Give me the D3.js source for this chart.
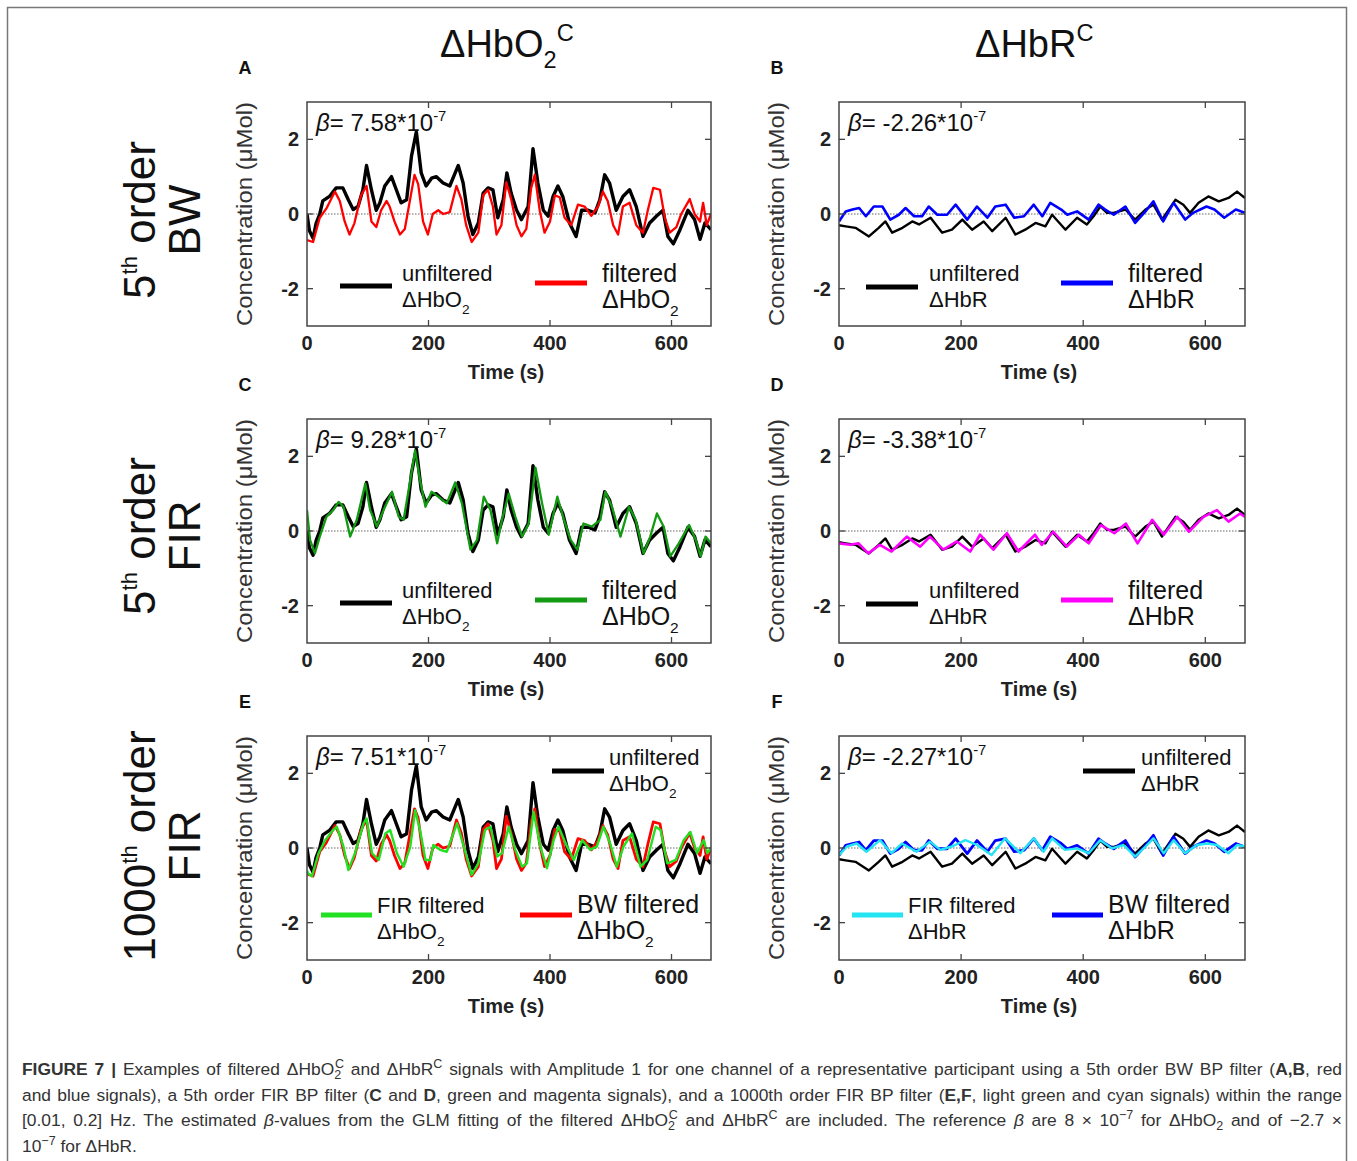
<!DOCTYPE html>
<meta charset="utf-8">
<title>Figure 7</title>
<style>
body { margin: 0; background: #fff; font-family: Arial, "Liberation Sans", sans-serif; }
#caption { position: absolute; left: 22px; top: 1057px; width: 1320px; font-size: 17.4px; color: #333; }
#caption .ln { height: 25.5px; line-height: 25.5px; text-align: justify; text-align-last: justify; white-space: nowrap; }
#caption .ln.last { text-align-last: left; }
#caption sub, #caption sup { font-size: 0.72em; line-height: 0; }
#caption .st { margin-left: -0.5em; }
</style>
<svg id="fig"></svg>
<div id="caption">
	<div class="ln"><b>FIGURE 7 |</b> Examples of filtered ΔHbO<sub>2</sub><sup class="st">C</sup> and ΔHbR<sup>C</sup> signals with Amplitude 1 for one channel of a representative participant using a 5th order BW BP filter (<b>A,B</b>, red</div>
	<div class="ln">and blue signals), a 5th order FIR BP filter (<b>C</b> and <b>D</b>, green and magenta signals), and a 1000th order FIR BP filter (<b>E,F</b>, light green and cyan signals) within the range</div>
	<div class="ln">[0.01, 0.2] Hz. The estimated <i>β</i>-values from the GLM fitting of the filtered ΔHbO<sub>2</sub><sup class="st">C</sup> and ΔHbR<sup>C</sup> are included. The reference <i>β</i> are 8 × 10<sup>−7</sup> for ΔHbO<sub>2</sub> and of −2.7 ×</div>
	<div class="ln last">10<sup>−7</sup> for ΔHbR.</div>
</div>
<script src="https://cdnjs.cloudflare.com/ajax/libs/d3/7.8.5/d3.min.js"></script>
<script>
// values, [time (s), concentration (uMol)]
const hboRaw = [[0,0.0],[4,-0.45],[10,-0.65],[15,-0.25],[21,0.0],[26,0.35],[37,0.47],[48,0.7],[59,0.7],[68,0.38],[76,0.12],[84,0.2],[92,0.65],[98,1.3],[106,0.65],[114,0.1],[120,0.3],[128,0.75],[139,1.0],[147,0.65],[155,0.3],[164,0.38],[172,1.55],[180,2.2],[188,1.1],[196,0.75],[205,0.96],[213,1.0],[224,0.83],[235,0.75],[249,1.3],[257,0.83],[265,-0.06],[273,-0.55],[282,-0.24],[290,0.56],[298,0.7],[306,0.65],[314,-0.1],[323,0.38],[329,1.1],[336,0.56],[345,0.1],[353,-0.15],[364,0.2],[372,1.75],[380,0.83],[389,0.1],[397,-0.06],[405,0.47],[413,0.75],[421,0.47],[432,-0.24],[443,-0.6],[452,0.1],[463,0.1],[474,0.03],[482,0.38],[490,1.05],[498,0.83],[509,0.1],[520,0.47],[531,0.65],[542,0.2],[553,-0.6],[564,-0.24],[575,-0.06],[586,0.1],[594,-0.6],[603,-0.8],[614,-0.42],[627,0.1],[638,-0.15],[647,-0.68],[655,-0.24],[665,-0.42]];
const hboBw = [[0,-0.7],[10,-0.75],[21,-0.1],[32,0.15],[46,0.6],[54,0.35],[62,-0.2],[70,-0.55],[78,-0.25],[89,0.5],[98,0.75],[106,-0.2],[114,-0.35],[122,0.1],[131,0.35],[136,0.2],[144,-0.2],[153,-0.55],[161,-0.4],[172,0.6],[177,1.05],[183,0.8],[191,-0.2],[199,-0.55],[207,0.0],[216,0.1],[224,0.0],[235,0.05],[246,0.75],[254,0.4],[262,-0.3],[271,-0.75],[282,-0.5],[290,0.5],[298,0.65],[306,0.2],[312,-0.55],[320,-0.3],[328,0.85],[336,0.4],[345,-0.3],[353,-0.6],[361,-0.4],[369,0.7],[375,1.05],[383,0.1],[391,-0.5],[400,-0.2],[408,0.5],[416,0.45],[424,-0.1],[435,-0.3],[446,0.25],[457,0.2],[468,-0.05],[479,0.2],[487,0.6],[495,0.35],[504,-0.3],[512,-0.55],[520,0.2],[531,0.3],[542,-0.3],[553,-0.5],[561,0.1],[570,0.7],[581,0.65],[589,-0.1],[597,-0.5],[608,-0.35],[616,0.0],[630,0.4],[638,0.0],[647,-0.2],[652,0.3],[658,-0.3],[665,0.0]];
const hboFir5 = [[0,0.56],[5,-0.24],[13,-0.6],[21,-0.15],[32,0.38],[43,0.56],[52,0.78],[60,0.65],[71,-0.15],[82,0.3],[96,1.27],[104,0.56],[115,0.12],[126,0.56],[140,1.05],[151,0.38],[159,0.3],[170,1.36],[178,2.16],[186,1.36],[195,0.65],[205,1.05],[216,0.92],[230,0.74],[244,1.3],[255,0.74],[269,-0.5],[280,-0.24],[291,0.92],[302,0.56],[313,-0.33],[321,0.3],[332,1.0],[343,0.38],[354,-0.15],[365,0.2],[376,1.7],[387,0.74],[398,-0.1],[412,0.92],[423,0.3],[434,-0.24],[445,-0.5],[455,0.2],[469,0.12],[483,0.3],[491,1.05],[502,0.65],[516,-0.15],[530,0.65],[541,0.3],[554,-0.6],[565,-0.15],[576,0.47],[587,0.12],[598,-0.68],[612,-0.33],[629,0.16],[640,-0.24],[648,-0.68],[656,-0.15],[665,-0.33]];
const hboFir1000 = [[0,-0.6],[2,-0.68],[8,-0.76],[19,-0.14],[30,0.21],[43,0.48],[49,0.57],[60,0.04],[68,-0.59],[79,-0.14],[93,0.66],[98,0.79],[107,-0.14],[118,-0.32],[129,0.39],[137,0.48],[148,-0.14],[159,-0.5],[170,0.04],[178,1.01],[186,0.48],[195,-0.32],[203,-0.32],[208,0.08],[219,-0.05],[230,-0.1],[247,0.66],[258,0.04],[271,-0.72],[282,-0.41],[293,0.48],[302,0.57],[313,-0.23],[321,-0.14],[332,0.57],[343,-0.05],[354,-0.5],[362,-0.41],[373,0.97],[384,0.04],[395,-0.54],[406,0.21],[414,0.57],[428,0.04],[439,-0.32],[453,0.21],[466,-0.05],[477,0.04],[488,0.57],[499,0.12],[510,-0.5],[521,0.04],[535,0.39],[549,-0.5],[560,-0.32],[574,0.57],[582,0.48],[593,-0.41],[607,-0.32],[620,0.21],[631,0.43],[642,-0.14],[653,0.21],[659,-0.14],[665,0.0]];

const hbrRaw = [[0,-0.3],[11,-0.33],[27,-0.37],[49,-0.6],[65,-0.37],[76,-0.2],[87,-0.5],[104,-0.37],[120,-0.2],[131,-0.28],[150,-0.1],[169,-0.5],[185,-0.42],[202,-0.15],[218,-0.42],[237,-0.2],[251,-0.46],[273,-0.1],[289,-0.55],[305,-0.42],[322,-0.24],[338,-0.33],[349,-0.02],[371,-0.42],[390,-0.1],[406,-0.28],[417,-0.06],[428,0.2],[439,0.03],[450,0.03],[469,0.12],[485,-0.15],[502,0.12],[515,0.25],[529,-0.15],[551,0.38],[564,0.25],[575,0.03],[589,0.3],[605,0.47],[622,0.34],[638,0.43],[652,0.6],[665,0.43]];
const hbrBw = [[0,-0.2],[11,0.07],[22,0.12],[33,0.16],[44,-0.06],[57,0.2],[71,0.2],[84,-0.15],[98,-0.02],[109,0.16],[123,-0.06],[136,-0.06],[147,0.2],[161,-0.02],[177,-0.02],[191,0.25],[210,-0.15],[226,0.2],[243,-0.1],[256,0.2],[273,0.25],[287,-0.1],[303,-0.06],[319,0.25],[333,-0.06],[346,0.3],[364,0.12],[374,-0.02],[390,0.07],[409,-0.15],[425,0.25],[436,0.12],[450,-0.02],[469,0.2],[485,-0.24],[502,0.07],[515,0.34],[531,-0.2],[548,0.3],[567,-0.15],[580,0.03],[602,0.2],[615,0.12],[631,-0.1],[650,0.12],[665,0.03]];
const hbrFir5 = [[0,-0.33],[18,-0.37],[32,-0.33],[48,-0.6],[67,-0.37],[86,-0.55],[111,-0.15],[133,-0.42],[149,-0.15],[171,-0.5],[193,-0.28],[215,-0.55],[231,-0.1],[253,-0.5],[275,-0.06],[294,-0.55],[321,-0.1],[332,-0.37],[351,-0.02],[373,-0.42],[393,-0.1],[409,-0.33],[429,0.16],[451,-0.06],[470,0.2],[489,-0.33],[513,0.3],[532,-0.1],[554,0.38],[573,-0.02],[597,0.38],[619,0.56],[638,0.25],[657,0.47],[665,0.38]];
const hbrFir1000 = [[0,-0.19],[13,0.04],[29,0.12],[45,-0.1],[67,0.21],[86,-0.14],[103,0.12],[127,-0.1],[149,0.17],[166,-0.05],[185,0.04],[207,0.21],[226,0.08],[250,-0.19],[272,0.26],[297,-0.14],[319,0.26],[335,-0.1],[349,0.26],[370,-0.05],[390,-0.01],[409,-0.14],[428,0.21],[447,-0.01],[466,0.08],[485,-0.23],[502,0.04],[515,0.26],[532,-0.14],[548,0.21],[567,-0.14],[586,0.08],[603,0.12],[619,0.08],[638,-0.14],[652,0.08],[665,0.04]];

const timeTicks = [0, 200, 400, 600];
const concTicks = [-2, 0, 2];
const betas = ["7.58", "-2.26", "9.28", "-3.38", "7.51", "-2.27"];
const panelLetters = ["A", "B", "C", "D", "E", "F"];
const rowLabels = [["5", "th", " order", "BW"], ["5", "th", " order", "FIR"], ["1000", "th", " order", "FIR"]];

const W = 1357, H = 1161;
const colX = [307, 839], colW = [404, 406];
const rowY = [102, 419, 736], plotH = 224;

const svg = d3.select("#fig").attr("width", W).attr("height", H)
	.style("position", "absolute").style("left", 0).style("top", 0)
	.attr("font-family", "Arial, 'Liberation Sans', sans-serif");

svg.append("rect").attr("x", 7.5).attr("y", 7.5).attr("width", 1339).attr("height", 1200)
	.attr("fill", "none").attr("stroke", "#777").attr("stroke-width", 1.5);

// text with sub/superscripts: parts = [[text, kind]], kind n | sub | sup | i
function rich(g, x, y, parts, size, anchor, supScale) {
	var t = g.append("text").attr("x", x).attr("y", y).attr("font-size", size)
		.attr("text-anchor", anchor || "start").attr("fill", "#111");
	var cur = 0;
	parts.forEach(function(p) {
		var shift = p[1] == "sub" ? 0.3 * size : p[1] == "sup" ? -0.42 * size : 0;
		var ts = t.append("tspan").text(p[0]).attr("dy", shift - cur);
		if (p[1] == "sub" || p[1] == "sup") ts.attr("font-size", size * (supScale || 0.62));
		if (p[1] == "i") ts.attr("font-style", "italic");
		cur = shift;
	});
	return t;
}

// column titles
rich(svg, 440, 57, [["ΔHbO", "n"], ["2", "sub"], ["C", "sup"]], 38);
rich(svg, 975, 57, [["ΔHbR", "n"], ["C", "sup"]], 38);

// row labels
rowLabels.forEach(function(r, i) {
	var cy = [220, 536, 846][i];
	var g1 = svg.append("g").attr("transform", "translate(155," + cy + ") rotate(-90)");
	rich(g1, 0, 0, [[r[0], "n"], [r[1], "sup"], [r[2], "n"]], 44, "middle", 0.5);
	var g2 = svg.append("g").attr("transform", "translate(200," + cy + ") rotate(-90)");
	rich(g2, 0, 0, [[r[3], "n"]], 44, "middle");
});

const hboLegendTop = [
	{color: "#000", x1: 33, x2: 85, y: 184, tx: 95, ty: 179, size: 22, lines: [[["unfiltered", "n"]], [["ΔHbO", "n"], ["2", "sub"]]]},
	{color: null, x1: 228, x2: 280, y: 181, tx: 295, ty: 180, size: 25, lines: [[["filtered", "n"]], [["ΔHbO", "n"], ["2", "sub"]]]}
];
const hbrLegendTop = [
	{color: "#000", x1: 27, x2: 79, y: 185, tx: 90, ty: 179, size: 22, lines: [[["unfiltered", "n"]], [["ΔHbR", "n"]]]},
	{color: null, x1: 222, x2: 274, y: 181, tx: 289, ty: 180, size: 25, lines: [[["filtered", "n"]], [["ΔHbR", "n"]]]}
];

const panels = [
	{series: [[hboRaw, "#000", 3.4], [hboBw, "#ff0000", 2.3]], legend: hboLegendTop, fc: "#ff0000"},
	{series: [[hbrRaw, "#000", 2.4], [hbrBw, "#0000ff", 2.6]], legend: hbrLegendTop, fc: "#0000ff"},
	{series: [[hboRaw, "#000", 3.4], [hboFir5, "#129a12", 2.3]], legend: hboLegendTop, fc: "#129a12"},
	{series: [[hbrRaw, "#000", 2.4], [hbrFir5, "#ff00ff", 2.6]], legend: hbrLegendTop, fc: "#ff00ff"},
	{series: [[hboRaw, "#000", 3.4], [hboBw, "#ff0000", 2.8], [hboFir1000, "#22e022", 2.4]], legend: [
		{color: "#000", x1: 245, x2: 297, y: 35, tx: 302, ty: 29, size: 22, lines: [[["unfiltered", "n"]], [["ΔHbO", "n"], ["2", "sub"]]]},
		{color: "#22e022", x1: 14, x2: 65, y: 179, tx: 70, ty: 177, size: 22, lines: [[["FIR filtered", "n"]], [["ΔHbO", "n"], ["2", "sub"]]]},
		{color: "#ff0000", x1: 213, x2: 265, y: 179, tx: 270, ty: 177, size: 25, lines: [[["BW filtered", "n"]], [["ΔHbO", "n"], ["2", "sub"]]]}
	]},
	{series: [[hbrRaw, "#000", 2.4], [hbrBw, "#0000ff", 2.8], [hbrFir1000, "#22e4f2", 2.4]], legend: [
		{color: "#000", x1: 244, x2: 296, y: 35, tx: 302, ty: 29, size: 22, lines: [[["unfiltered", "n"]], [["ΔHbR", "n"]]]},
		{color: "#22e4f2", x1: 13, x2: 64, y: 179, tx: 69, ty: 177, size: 22, lines: [[["FIR filtered", "n"]], [["ΔHbR", "n"]]]},
		{color: "#0000ff", x1: 213, x2: 264, y: 179, tx: 269, ty: 177, size: 25, lines: [[["BW filtered", "n"]], [["ΔHbR", "n"]]]}
	]}
];

panels.forEach(function(p, i) {
	var col = i % 2, row = Math.floor(i / 2);
	var w = colW[col];
	var x = d3.scaleLinear().domain([0, 665]).range([0, w]);
	var y = d3.scaleLinear().domain([-3, 3]).range([plotH, 0]);
	var g = svg.append("g").attr("transform", "translate(" + colX[col] + "," + rowY[row] + ")");

	g.append("clipPath").attr("id", "clip" + i).append("rect").attr("width", w).attr("height", plotH);

	g.append("line").attr("x1", 0).attr("x2", w).attr("y1", y(0)).attr("y2", y(0))
		.attr("stroke", "#666").attr("stroke-width", 1).attr("stroke-dasharray", "1.5,1.5");

	var line = d3.line().x(d => x(d[0])).y(d => y(d[1]));
	var lines = g.append("g").attr("clip-path", "url(#clip" + i + ")");
	p.series.forEach(function(s) {
		lines.append("path").attr("d", line(s[0])).attr("fill", "none")
			.attr("stroke", s[1]).attr("stroke-width", s[2]).attr("stroke-linejoin", "round");
	});

	g.append("rect").attr("width", w).attr("height", plotH).attr("fill", "none")
		.attr("stroke", "#444").attr("stroke-width", 1.5);

	// inner ticks on all four sides
	timeTicks.forEach(function(t) {
		if (t > 0) {
			g.append("line").attr("x1", x(t)).attr("x2", x(t)).attr("y1", plotH).attr("y2", plotH - 6).attr("stroke", "#444").attr("stroke-width", 1.3);
			g.append("line").attr("x1", x(t)).attr("x2", x(t)).attr("y1", 0).attr("y2", 6).attr("stroke", "#444").attr("stroke-width", 1.3);
		}
		g.append("text").attr("x", x(t)).attr("y", plotH + 24).attr("text-anchor", "middle")
			.attr("font-size", 20).attr("font-weight", "bold").attr("fill", "#222").text(t);
	});
	concTicks.forEach(function(c) {
		g.append("line").attr("x1", 0).attr("x2", 6).attr("y1", y(c)).attr("y2", y(c)).attr("stroke", "#444").attr("stroke-width", 1.3);
		g.append("line").attr("x1", w).attr("x2", w - 6).attr("y1", y(c)).attr("y2", y(c)).attr("stroke", "#444").attr("stroke-width", 1.3);
		g.append("text").attr("x", -8).attr("y", y(c) + 7).attr("text-anchor", "end")
			.attr("font-size", 20).attr("font-weight", "bold").attr("fill", "#222").text(c);
	});

	g.append("text").attr("x", w / 2 - 3).attr("y", plotH + 53).attr("text-anchor", "middle")
		.attr("font-size", 20).attr("font-weight", "bold").attr("fill", "#222").text("Time (s)");

	g.append("text").attr("transform", "translate(-55," + (plotH / 2) + ") rotate(-90)")
		.attr("text-anchor", "middle").attr("font-size", 22).attr("fill", "#333")
		.attr("textLength", 224).attr("lengthAdjust", "spacingAndGlyphs")
		.text("Concentration (μMol)");

	g.append("text").attr("x", -62).attr("y", -28).attr("text-anchor", "middle")
		.attr("font-size", 18).attr("font-weight", "bold").attr("fill", "#111").text(panelLetters[i]);

	rich(g, 9, 29, [["β", "i"], ["= " + betas[i] + "*10", "n"], ["-7", "sup"]], 24);

	p.legend.forEach(function(l) {
		g.append("line").attr("x1", l.x1).attr("x2", l.x2).attr("y1", l.y).attr("y2", l.y)
			.attr("stroke", l.color || p.fc).attr("stroke-width", 5);
		l.lines.forEach(function(parts, k) {
			rich(g, l.tx, l.ty + k * 26, parts, l.size);
		});
	});
});
</script>
